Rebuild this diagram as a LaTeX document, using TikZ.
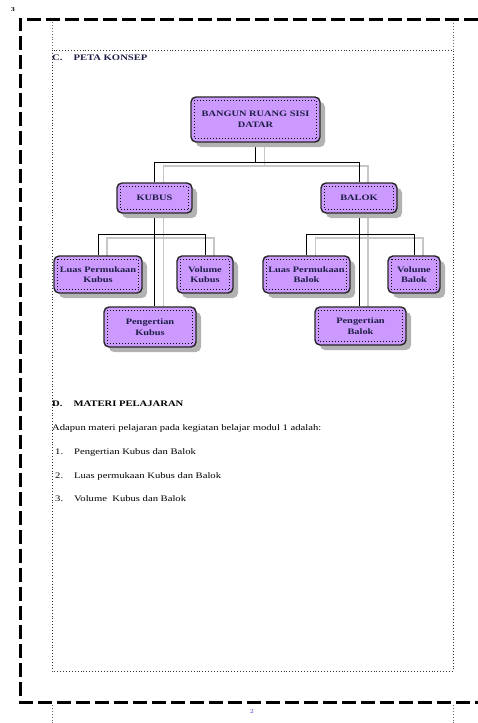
\documentclass[tikz,border=0pt]{standalone}
\usepackage{fontspec}
\setmainfont{Liberation Serif}[FakeStretch=1.25]
\usetikzlibrary{shadows,backgrounds}
\definecolor{lav}{RGB}{204,153,255}
\definecolor{navy}{RGB}{30,30,70}
\tikzset{
  konsep/.style={draw=black!85, line width=1.4pt, rounded corners=5pt, fill=lav,
    inner sep=0pt, align=center, font=\fontsize{8.3}{10.5}\selectfont\bfseries, text=navy,
    drop shadow={shadow xshift=5pt, shadow yshift=-5pt, fill=black!30, opacity=1}},
  conn/.style={line width=1pt, black},
  sconn/.style={line width=1.6pt, black!22},
  innerbox/.style={dotted, line width=1pt, black},
  pageborder/.style={line width=3pt, dash pattern=on 14pt off 5pt},
  guide/.style={dotted, line width=0.9pt, black!60},
  body/.style={anchor=base west, inner sep=0pt, font=\fontsize{8.5}{10}\selectfont},
  head/.style={anchor=base west, inner sep=0pt, font=\fontsize{8.5}{10}\selectfont\bfseries}
}
\newcommand\dotin[1]{\draw[innerbox] ([xshift=4pt,yshift=-4pt]#1.north west) rectangle ([xshift=-4pt,yshift=4pt]#1.south east);}
\newcommand\treelines{%
  \draw (top.south) -- (top.south |- h1);
  \draw (kubus.north) -- (kubus.north |- h1) -- (balok.north |- h1) -- (balok.north);
  \draw (luask.north) -- (luask.north |- h2) -- (volk.north |- h2) -- (volk.north);
  \draw (kubus.south) -- (kubus.south |- pengk.north);
  \draw (luasb.north) -- (luasb.north |- h2) -- (volb.north |- h2) -- (volb.north);
  \draw (balok.south) -- (balok.south |- pengb.north);}
\begin{document}
\begin{tikzpicture}[x=1pt,y=-1pt]
\useasboundingbox (0,0) rectangle (478,723);
% page guides
\draw[guide] (52,22) -- (52,50);
\draw[guide] (453,20) -- (453,50);
\draw[guide] (52,705) -- (52,723);
\draw[guide] (453,705) -- (453,723);
\draw[guide, black!80] (52,50) rectangle (453,671);
% dashed page border
\draw[pageborder] (478,19) -- (20,19) -- (20,702) -- (478,702);
\node[inner sep=0pt, font=\fontsize{6}{6}\selectfont\bfseries] (pg) at (13,10) {3};
\node[inner sep=0pt, font=\fontsize{6}{6}\selectfont, text=blue!50!gray] (pn) at (252,712) {2};
% heading
\node[head, text=navy] (c) at (52,60) {C.\hspace{11pt}PETA KONSEP};
% nodes
\node[konsep, minimum width=129pt, minimum height=45pt] (top) at (255.5,119.5) {BANGUN RUANG SISI\\DATAR};
\node[konsep, minimum width=75pt, minimum height=30pt] (kubus) at (154.5,198) {KUBUS};
\node[konsep, minimum width=76pt, minimum height=30pt] (balok) at (359,198) {BALOK};
\node[konsep, minimum width=88pt, minimum height=37pt] (luask) at (98,274.5) {Luas Permukaan\\Kubus};
\node[konsep, minimum width=56pt, minimum height=37pt] (volk) at (205,274.5) {Volume\\Kubus};
\node[konsep, minimum width=92pt, minimum height=40pt] (pengk) at (150,327) {Pengertian\\Kubus};
\node[konsep, minimum width=87pt, minimum height=37pt] (luasb) at (306.5,274.5) {Luas Permukaan\\Balok};
\node[konsep, minimum width=52pt, minimum height=37pt] (volb) at (414,274.5) {Volume\\Balok};
\node[konsep, minimum width=91pt, minimum height=38pt] (pengb) at (360.5,326) {Pengertian\\Balok};
\dotin{top}\dotin{kubus}\dotin{balok}\dotin{luask}\dotin{volk}\dotin{pengk}\dotin{luasb}\dotin{volb}\dotin{pengb}
\coordinate (h1) at (0,162);
\coordinate (h2) at (0,234);
% connectors behind the boxes
\begin{pgfonlayer}{background}
\begin{scope}[sconn, transform canvas={xshift=9pt,yshift=-4pt}]
\treelines
\end{scope}
\begin{scope}[conn]
\treelines
\end{scope}
\end{pgfonlayer}
% text section
\node[head] (d) at (52,406) {D.\hspace{11pt}MATERI PELAJARAN};
\node[body] (intro) at (52,430) {Adapun materi pelajaran pada kegiatan belajar modul 1 adalah:};
\node[body] (i1) at (55,454) {1.\hspace{11pt}Pengertian Kubus dan Balok};
\node[body] (i2) at (55,478) {2.\hspace{11pt}Luas permukaan Kubus dan Balok};
\node[body] (i3) at (55,501) {3.\hspace{11pt}Volume\ \ Kubus dan Balok};
\end{tikzpicture}
\end{document}
